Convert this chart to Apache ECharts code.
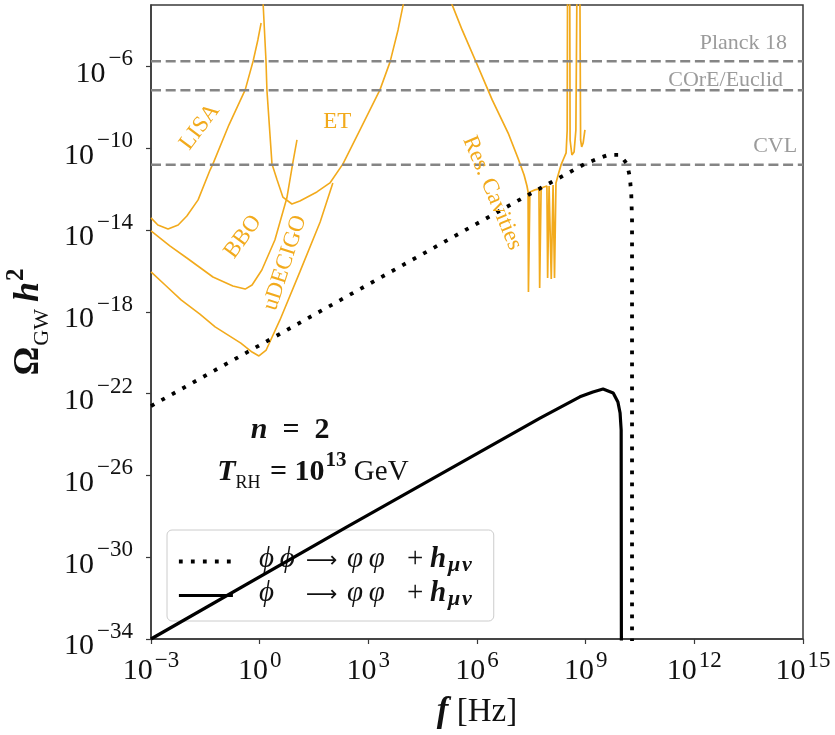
<!DOCTYPE html>
<html>
<head>
<meta charset="utf-8">
<title>Gravitational-wave spectrum</title>
<script src="https://cdn.jsdelivr.net/npm/echarts@6.0.0/dist/echarts.min.js"></script>
<style>
  html, body { margin: 0; padding: 0; background: #ffffff; }
  #chart { width: 835px; height: 735px; }
</style>
</head>
<body>
<div id="chart"></div>
<script>
// Every curve is a list of [log10(f / Hz), log10(Omega_GW h^2)] pairs.

const xTickExponents = [-3, 0, 3, 6, 9, 12, 15];
const yTickExponents = [-34, -30, -26, -22, -18, -14, -10, -6];

// phi phi -> varphi varphi + h_{mu nu}
const scatteringSpectrum = [
  [-3.00, -22.61], [7.46, -12.24], [8.98, -10.77], [9.31, -10.53], [9.62, -10.33],
  [9.95, -10.33], [10.14, -10.77], [10.22, -11.41], [10.26, -12.30], [10.28, -13.50], [10.28, -40.00]
];

// phi -> varphi varphi + h_{mu nu}
const decaySpectrum = [
  [-3.00, -34.00], [2.41, -28.52], [7.74, -23.20], [8.84, -22.16], [9.20, -21.92],
  [9.48, -21.78], [9.76, -21.97], [9.89, -22.41], [9.95, -22.95], [9.98, -23.78], [9.99, -40.00]
];

// Detector sensitivity curves
const lisaSensitivity = [
  [-3.00, -13.41], [-2.81, -13.76], [-2.53, -13.95], [-2.25, -13.76], [-2.01, -13.32],
  [-1.70, -12.53], [-1.37, -11.07], [-1.29, -10.77], [-0.85, -8.87], [-0.40, -7.15],
  [-0.18, -5.74], [-0.05, -4.71], [0.04, -3.88]
];
const bboSensitivity = [
  [-3.00, -14.05], [-2.48, -14.78], [-2.01, -15.37], [-1.29, -16.30], [-0.74, -16.74],
  [-0.40, -16.89], [-0.21, -16.69], [0.06, -15.96], [0.42, -14.49], [0.75, -12.44],
  [0.92, -10.67], [1.03, -9.60]
];
const udecigoSensitivity = [
  [-3.00, -16.05], [-2.61, -16.69], [-2.17, -17.42], [-1.65, -18.11], [-1.23, -18.74],
  [-0.52, -19.53], [-0.21, -19.97], [-0.02, -20.16], [0.18, -19.87], [0.56, -18.40],
  [1.11, -16.05], [1.67, -13.61], [2.02, -11.70]
];
const etSensitivity = [
  [0.09, -2.75], [0.175, -5.74], [0.20, -7.15], [0.34, -10.77], [0.48, -11.55],
  [0.64, -12.39], [0.89, -12.73], [1.11, -12.58], [1.58, -12.14], [1.94, -11.70],
  [2.30, -10.77], [2.77, -9.11], [3.32, -7.15], [3.60, -5.78], [3.82, -4.22], [3.99, -2.75]
];
const cavitySensitivity = [
  [5.26, -2.75], [5.59, -4.22], [5.95, -5.69], [6.42, -7.64], [6.86, -9.26], [7.13, -10.48],
  [7.30, -11.31], [7.38, -11.85], [7.41, -12.14], [7.42, -17.03], [7.46, -12.14], [7.60, -12.04],
  [7.71, -11.99], [7.73, -16.84], [7.77, -11.95], [7.93, -11.85], [7.95, -16.35], [7.99, -11.85],
  [8.04, -11.80], [8.05, -16.40], [8.10, -11.80], [8.14, -16.35], [8.18, -11.70], [8.24, -11.31],
  [8.32, -10.82], [8.40, -10.48], [8.46, -10.23], [8.49, -9.11], [8.50, -2.00], [8.56, -2.00],
  [8.57, -9.60], [8.62, -10.33], [8.68, -10.19], [8.73, -9.11], [8.76, -2.00], [8.84, -2.00],
  [8.86, -9.60], [8.89, -9.94], [8.93, -9.75], [8.98, -9.11]
];

// Cosmological bounds (horizontal levels)
const boundNames = ['Planck 18', 'COrE/Euclid', 'CVL'];
const boundLevels = [-5.75, -7.17, -10.81];

// ---------------------------------------------------------------- styling
const SERIF = '"Liberation Serif", "DejaVu Serif", "Times New Roman", serif';
const INK = '#111111';
const FRAME = '#3a3a3a';
const ORANGE = '#f2aa1c';
const DASH_GRAY = '#858585';
const LABEL_GRAY = '#9b9b9b';

const scatteringName = '\u03D5\u03D5 \u2192 \u03C6\u03C6 + h\u03BC\u03BD';
const decayName = '\u03D5 \u2192 \u03C6\u03C6 + h\u03BC\u03BD';

// "10" followed by a raised exponent
function powerRich(supPadding) {
  return {
    b: { fontFamily: SERIF, fontSize: 30, color: INK, verticalAlign: 'bottom' },
    s: { fontFamily: SERIF, fontSize: 23, color: INK, verticalAlign: 'top', padding: supPadding }
  };
}
const powerOfTen = v => '{b|10}{s|' + (v < 0 ? '\u2212' + Math.abs(v) : String(v)) + '}';

const mathRich = {
  bi: { fontFamily: SERIF, fontSize: 30, fontWeight: 'bold', fontStyle: 'italic', color: INK, verticalAlign: 'bottom', padding: [0, 0, 5, 0] },
  b: { fontFamily: SERIF, fontSize: 30, fontWeight: 'bold', color: INK, verticalAlign: 'bottom', padding: [0, 0, 5, 0] },
  r: { fontFamily: SERIF, fontSize: 29, color: INK, verticalAlign: 'bottom', padding: [0, 0, 5, 0] },
  sub: { fontFamily: SERIF, fontSize: 18, color: INK, verticalAlign: 'bottom', padding: [0, 2, 0, 0] },
  sup: { fontFamily: SERIF, fontSize: 21, fontWeight: 'bold', color: INK, verticalAlign: 'top', padding: [0, 0, 21, 1] }
};

// Legend entries: every piece is left-aligned in a fixed-width slot so the
// arrows and plus signs of both rows line up.
const legendGlyph = { fontFamily: SERIF, fontSize: 29, color: INK, verticalAlign: 'bottom', align: 'left', padding: [0, 0, 4, 0] };
const legendRich = {
  gap: { width: 21 },
  c1: Object.assign({}, legendGlyph, { fontStyle: 'italic', width: 45 }),
  ar: Object.assign({}, legendGlyph, { width: 41, fontFamily: '"DejaVu Sans", sans-serif', fontSize: 22, padding: [0, 0, 6, 2] }),
  i: Object.assign({}, legendGlyph, { fontStyle: 'italic', width: 54 }),
  pl: Object.assign({}, legendGlyph, { width: 23, padding: [0, 0, 4, 6] }),
  h: Object.assign({}, legendGlyph, { fontWeight: 'bold', fontStyle: 'italic', width: 18 }),
  s: { fontFamily: SERIF, fontSize: 22, fontWeight: 'bold', fontStyle: 'italic', color: INK, verticalAlign: 'bottom', align: 'left', width: 37, padding: [0, 0, 2, 0] }
};
const legendLabels = {};
legendLabels[scatteringName] = '{gap| }{c1|\u03D5\u2009\u03D5}{ar|\u27F6}{i|\u03C6\u2009\u03C6}{pl|+}{h|h}{s|\u03BC\u200A\u03BD}';
legendLabels[decayName] = '{gap| }{c1|\u03D5}{ar|\u27F6}{i|\u03C6\u2009\u03C6}{pl|+}{h|h}{s|\u03BC\u200A\u03BD}';

// Text placed in data space: [log10 f, log10 Omega]
const detectorTags = [
  { text: 'LISA', at: [-1.65, -8.96], rotate: 53 },
  { text: 'BBO', at: [-0.46, -14.34], rotate: 54 },
  { text: 'uDECIGO', at: [0.70, -15.61], rotate: 72 },
  { text: 'ET', at: [2.14, -8.72], rotate: 0 },
  { text: 'Res. Cavities', at: [6.42, -12.19], rotate: -67 }
];
const boundTagAnchors = [[14.56, -4.86], [14.45, -6.66], [14.84, -9.89]];
const parameterTags = [
  { text: '{bi|n}{b|\u2002=\u20022}', at: [0.84, -23.90] },
  { text: '{bi|T}{sub|RH}{b| = 10}{sup|13}{r| GeV}', at: [1.47, -25.80] }
];

function curve(name, data, lineStyle, z) {
  return {
    type: 'line', name: name, data: data, symbol: 'none', showSymbol: false,
    silent: true, clip: true, z: z, lineStyle: lineStyle,
    itemStyle: { color: lineStyle.color }, emphasis: { disabled: true }
  };
}

const orangeStyle = { color: ORANGE, width: 1.6 };

const series = [
  curve('LISA', lisaSensitivity, orangeStyle, 2),
  curve('BBO', bboSensitivity, orangeStyle, 2),
  curve('uDECIGO', udecigoSensitivity, orangeStyle, 2),
  curve('ET', etSensitivity, orangeStyle, 2),
  curve('Res. Cavities', cavitySensitivity, { color: ORANGE, width: 1.7 }, 2)
];

boundLevels.forEach((level, k) => {
  series.push(curve(boundNames[k], [[-3, level], [15, level]],
    { color: DASH_GRAY, width: 2.6, type: [10, 4.7] }, 3));
});

series.push(curve(scatteringName, scatteringSpectrum,
  { color: '#000000', width: 3.8, type: [3.8, 8.2], cap: 'butt' }, 4));
series.push(curve(decayName, decaySpectrum,
  { color: '#000000', width: 3.2 }, 4));

const plainLabel = { show: true, opacity: 1, textBorderWidth: 0, textShadowBlur: 0 };
const tagData = [];
detectorTags.forEach(t => tagData.push({
  value: t.at,
  label: Object.assign({}, plainLabel, { position: 'inside', rotate: t.rotate, formatter: t.text,
    fontFamily: SERIF, fontSize: 23, color: ORANGE })
}));
boundTagAnchors.forEach((p, k) => tagData.push({
  value: p,
  label: Object.assign({}, plainLabel, { position: 'left', distance: 0, formatter: boundNames[k],
    fontFamily: SERIF, fontSize: 22, color: LABEL_GRAY })
}));
parameterTags.forEach(t => tagData.push({
  value: t.at,
  label: Object.assign({}, plainLabel, { position: 'inside', formatter: t.text, color: INK, rich: mathRich })
}));

series.push({
  type: 'scatter', data: tagData, symbolSize: 0.01, silent: true, z: 6,
  itemStyle: { color: '#ffffff' }, emphasis: { disabled: true }
});

const chart = echarts.init(document.getElementById('chart'), null, { renderer: 'canvas' });
chart.setOption({
  animation: false,
  backgroundColor: '#ffffff',
  grid: {
    left: 151, right: 32, top: 5, bottom: 96, containLabel: false, outerBoundsMode: 'none',
    show: true, borderColor: FRAME, borderWidth: 1.5, backgroundColor: 'transparent'
  },
  legend: {
    data: [scatteringName, decayName],
    orient: 'vertical', left: 167, top: 530,
    itemWidth: 54, itemHeight: 14, itemGap: 3,
    padding: [15, 22, 11, 10],
    backgroundColor: 'rgba(255,255,255,0.8)',
    borderColor: '#cccccc', borderWidth: 1, borderRadius: 5,
    itemStyle: { opacity: 0 },
    lineStyle: { width: 'inherit' },
    textStyle: { fontFamily: SERIF, fontSize: 29, color: INK, rich: legendRich },
    formatter: name => legendLabels[name],
    selectedMode: false
  },
  xAxis: {
    type: 'value', min: -3, max: 15,
    axisLine: { show: true, onZero: false, lineStyle: { color: FRAME, width: 1.5 } },
    axisTick: { show: true, inside: false, length: 5, customValues: xTickExponents, lineStyle: { color: FRAME, width: 1.2 } },
    axisLabel: { customValues: xTickExponents, margin: 8, formatter: powerOfTen, rich: powerRich([2, 0, 14, 2]) },
    splitLine: { show: false },
    name: '{f|f}{u| [Hz]}',
    nameLocation: 'middle', nameGap: 55,
    nameTextStyle: {
      rich: {
        f: { fontFamily: SERIF, fontSize: 35, fontWeight: 'bold', fontStyle: 'italic', color: INK, verticalAlign: 'bottom' },
        u: { fontFamily: SERIF, fontSize: 33, color: INK, verticalAlign: 'bottom' }
      }
    }
  },
  yAxis: {
    type: 'value', min: -34, max: -3,
    axisLine: { show: true, onZero: false, lineStyle: { color: FRAME, width: 1.5 } },
    axisTick: { show: true, inside: false, length: 5, customValues: yTickExponents, lineStyle: { color: FRAME, width: 1.2 } },
    axisLabel: { customValues: yTickExponents, margin: 18, formatter: powerOfTen, rich: powerRich([4, 0, 18, 3]) },
    splitLine: { show: false },
    name: '{o|\u03A9}{g|GW}{h|h}{p|2}',
    nameLocation: 'middle', nameRotate: 90, nameGap: 97,
    nameTextStyle: {
      rich: {
        o: { fontFamily: SERIF, fontSize: 36, fontWeight: 'bold', color: INK, verticalAlign: 'bottom', padding: [0, 0, 6, 0] },
        g: { fontFamily: SERIF, fontSize: 22, color: INK, verticalAlign: 'bottom', padding: [0, 7, 0, 1] },
        h: { fontFamily: SERIF, fontSize: 36, fontWeight: 'bold', fontStyle: 'italic', color: INK, verticalAlign: 'bottom', padding: [0, 0, 6, 0] },
        p: { fontFamily: SERIF, fontSize: 25, fontWeight: 'bold', color: INK, verticalAlign: 'top', padding: [0, 0, 24, 1] }
      }
    }
  },
  series: series
});
</script>
</body>
</html>
